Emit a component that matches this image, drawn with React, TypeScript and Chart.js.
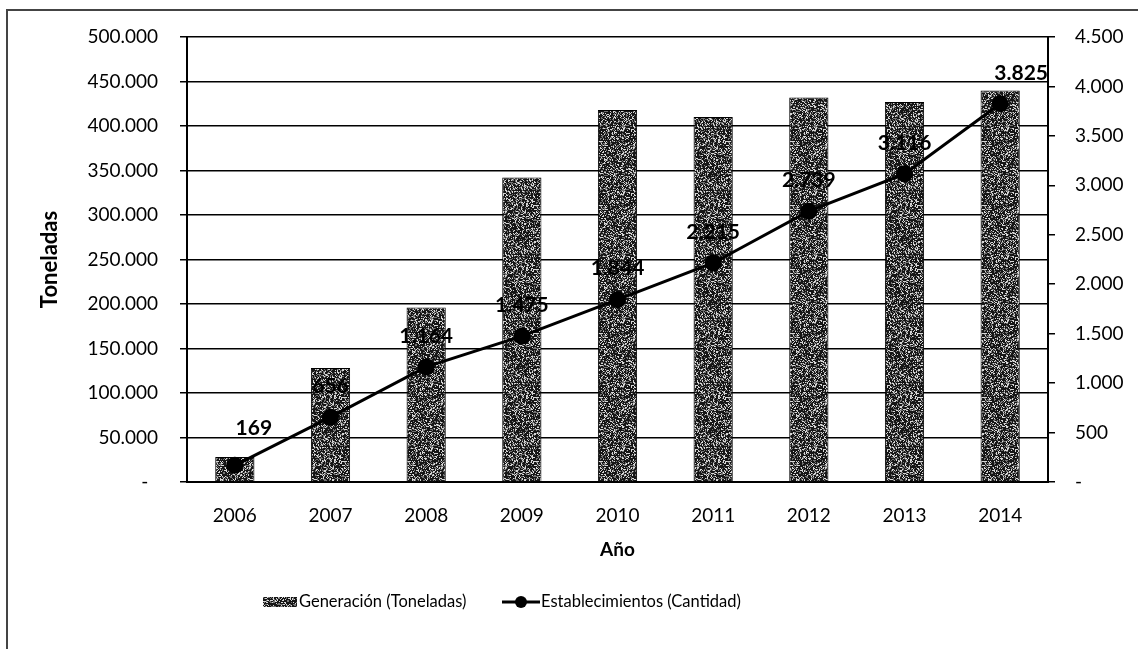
import React, { useEffect, useRef } from 'react';
import { Chart, registerables } from 'chart.js';

Chart.register(...registerables);

const years = ['2006', '2007', '2008', '2009', '2010', '2011', '2012', '2013', '2014'];
const generacion = [28000, 128000, 196000, 342000, 418000, 410000, 432000, 427000, 440000];
const establecimientos = [169, 656, 1164, 1475, 1844, 2215, 2739, 3116, 3825];
const leftTicks = [0, 50000, 100000, 150000, 200000, 250000, 300000, 350000, 400000, 450000, 500000];
const rightTicks = [0, 500, 1000, 1500, 2000, 2500, 3000, 3500, 4000, 4500];

const FONT = 'Lato, "Open Sans", sans-serif';

function fmt(v: number): string {
  return Math.round(v).toString().replace(/\B(?=(\d{3})+(?!\d))/g, '.');
}

function makePattern(): CanvasPattern | string {
  const c = document.createElement('canvas');
  c.width = 64;
  c.height = 64;
  const g = c.getContext('2d');
  if (!g) return '#555';
  const img = g.createImageData(64, 64);
  for (let y = 0; y < 64; y++) {
    for (let x = 0; x < 64; x++) {
      let h = Math.imul(x, 374761393) + Math.imul(y, 668265263);
      h = Math.imul(h ^ (h >>> 13), 1274126177);
      h = h ^ (h >>> 16);
      const r = (h >>> 0) % 100;
      const v = r < 20 ? 215 : r < 40 ? 115 : 22;
      const i = (y * 64 + x) * 4;
      img.data[i] = v;
      img.data[i + 1] = v;
      img.data[i + 2] = v;
      img.data[i + 3] = 255;
    }
  }
  g.putImageData(img, 0, 0);
  return g.createPattern(c, 'repeat') || '#555';
}

export default function App() {
  const ref = useRef<HTMLCanvasElement>(null);
  useEffect(() => {
    document.body.style.margin = '0';
    document.body.style.overflow = 'hidden';
    const canvas = ref.current;
    if (!canvas) return;
    const pattern = makePattern();

    const labelNudge: Record<number, [number, number]> = { 0: [19, -6], 8: [21, 0] };

    const decor = {
      id: 'decor',
      beforeDraw(chart: any) {
        const ctx = chart.ctx;
        ctx.save();
        ctx.fillStyle = '#fff';
        ctx.fillRect(0, 0, chart.width, chart.height);
        ctx.strokeStyle = '#444';
        ctx.lineWidth = 2;
        ctx.beginPath();
        ctx.moveTo(7, chart.height);
        ctx.lineTo(7, 10);
        ctx.lineTo(chart.width, 10);
        ctx.stroke();
        ctx.restore();
      },
      afterDatasetsDraw(chart: any) {
        const ctx = chart.ctx;
        const meta = chart.getDatasetMeta(0);
        ctx.save();
        ctx.font = `bold 21px ${FONT}`;
        ctx.fillStyle = '#000';
        ctx.textAlign = 'center';
        ctx.textBaseline = 'middle';
        meta.data.forEach((pt: any, i: number) => {
          const n = labelNudge[i] || [0, 0];
          ctx.fillText(fmt(establecimientos[i]), pt.x + n[0], pt.y - 31 + n[1]);
        });
        ctx.restore();
      },
      afterDraw(chart: any) {
        const ctx = chart.ctx;
        ctx.save();
        const ly = 602;
        ctx.fillStyle = pattern;
        ctx.fillRect(263, 597, 34, 10);
        ctx.font = `16.5px ${FONT}`;
        ctx.fillStyle = '#000';
        ctx.textBaseline = 'middle';
        ctx.textAlign = 'left';
        ctx.fillText('Generación (Toneladas)', 299, ly);
        ctx.strokeStyle = '#000';
        ctx.lineWidth = 3;
        ctx.beginPath();
        ctx.moveTo(502, ly);
        ctx.lineTo(540, ly);
        ctx.stroke();
        ctx.beginPath();
        ctx.arc(521, ly, 6, 0, Math.PI * 2);
        ctx.fillStyle = '#000';
        ctx.fill();
        ctx.fillText('Establecimientos (Cantidad)', 541, ly);
        ctx.restore();
      },
    };

    const chart = new Chart(canvas, {
      type: 'bar',
      data: {
        labels: years,
        datasets: [
          {
            type: 'line',
            label: 'Establecimientos (Cantidad)',
            data: establecimientos,
            yAxisID: 'y2',
            borderColor: '#000',
            backgroundColor: '#000',
            borderWidth: 3,
            pointRadius: 7,
            pointBackgroundColor: '#000',
            pointBorderColor: '#000',
            order: 0,
          } as any,
          {
            type: 'bar',
            label: 'Generación (Toneladas)',
            data: generacion,
            yAxisID: 'y',
            backgroundColor: pattern as any,
            borderColor: '#000',
            borderWidth: 1,
            categoryPercentage: 1,
            barPercentage: 0.41,
            order: 1,
          } as any,
        ],
      },
      options: {
        animation: false,
        responsive: false,
        maintainAspectRatio: false,
        layout: { padding: { top: 37, left: 0, right: 0, bottom: 0 } },
        plugins: { legend: { display: false }, tooltip: { enabled: false } },
        scales: {
          x: {
            grid: { display: false },
            border: { display: true, color: '#000', width: 2 },
            ticks: { color: '#000', font: { family: FONT, size: 19 }, padding: 14 },
            title: {
              display: true,
              text: 'Año',
              color: '#000',
              font: { family: FONT, size: 19, weight: 'bold' },
              padding: { top: 0, bottom: 88 },
            },
            afterFit(scale: any) {
              scale.height = 167;
            },
          },
          y: {
            position: 'left',
            min: 0,
            max: 500000,
            afterBuildTicks(scale: any) {
              scale.ticks = leftTicks.map((v) => ({ value: v }));
            },
            grid: { color: '#000', lineWidth: 1.5, tickLength: 7, tickColor: '#000' },
            border: { display: true, color: '#000', width: 2 },
            ticks: {
              color: '#000',
              font: { family: FONT, size: 19 },
              padding: 22,
              callback: (v: any) => (Number(v) === 0 ? '-  ' : fmt(Number(v))),
            },
            title: {
              display: true,
              text: 'Toneladas',
              color: '#000',
              font: { family: FONT, size: 22, weight: 'bold' },
              padding: { top: 37, bottom: 0 },
            },
            afterFit(scale: any) {
              scale.width = 187;
            },
          },
          y2: {
            position: 'right',
            min: 0,
            max: 4500,
            afterBuildTicks(scale: any) {
              scale.ticks = rightTicks.map((v) => ({ value: v }));
            },
            grid: { drawOnChartArea: false, tickLength: 7, tickColor: '#000', lineWidth: 1.5 },
            border: { display: true, color: '#000', width: 2 },
            ticks: {
              color: '#000',
              font: { family: FONT, size: 19 },
              padding: 20,
              callback: (v: any) => (Number(v) === 0 ? '-' : fmt(Number(v))),
            },
            afterFit(scale: any) {
              scale.width = 90;
            },
          },
        },
      } as any,
      plugins: [decor],
    });
    return () => chart.destroy();
  }, []);
  return <canvas ref={ref} width={1138} height={649} style={{ display: 'block' }} />;
}
